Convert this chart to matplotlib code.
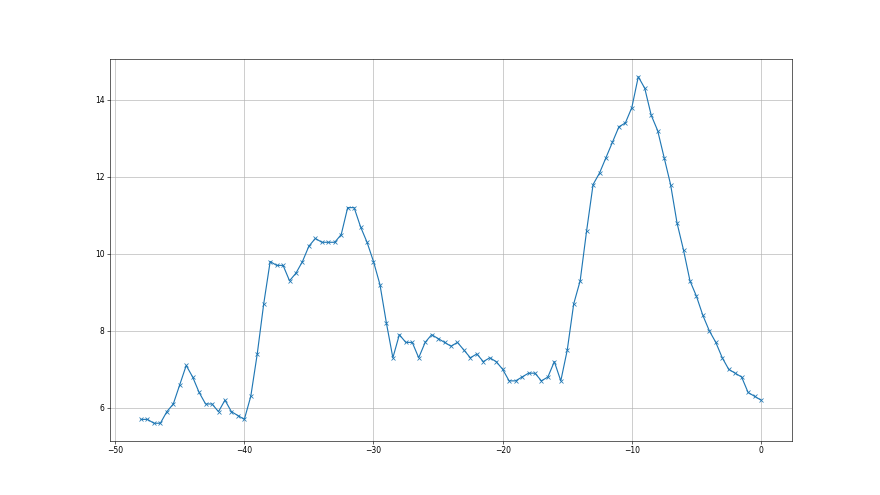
import numpy as np
import matplotlib
matplotlib.use("Agg")
import matplotlib.pyplot as plt

# x positions: -48 .. 0 in half-unit steps
x_start = -48.0
x_step = 0.5
values = [
    5.7, 5.7, 5.6, 5.6, 5.9, 6.1, 6.6, 7.1, 6.8, 6.4,
    6.1, 6.1, 5.9, 6.2, 5.9, 5.8, 5.7, 6.3, 7.4, 8.7,
    9.8, 9.7, 9.7, 9.3, 9.5, 9.8, 10.2, 10.4, 10.3, 10.3,
    10.3, 10.5, 11.2, 11.2, 10.7, 10.3, 9.8, 9.2, 8.2, 7.3,
    7.9, 7.7, 7.7, 7.3, 7.7, 7.9, 7.8, 7.7, 7.6, 7.7,
    7.5, 7.3, 7.4, 7.2, 7.3, 7.2, 7.0, 6.7, 6.7, 6.8,
    6.9, 6.9, 6.7, 6.8, 7.2, 6.7, 7.5, 8.7, 9.3, 10.6,
    11.8, 12.1, 12.5, 12.9, 13.3, 13.4, 13.8, 14.6, 14.3, 13.6,
    13.2, 12.5, 11.8, 10.8, 10.1, 9.3, 8.9, 8.4, 8.0, 7.7,
    7.3, 7.0, 6.9, 6.8, 6.4, 6.3, 6.2,
]
xs = x_start + x_step * np.arange(len(values))

fig, ax = plt.subplots(figsize=(16, 9), dpi=55)
ax.plot(xs, values, marker="x")
ax.grid(True)

fig.savefig("out.png", dpi=55)
